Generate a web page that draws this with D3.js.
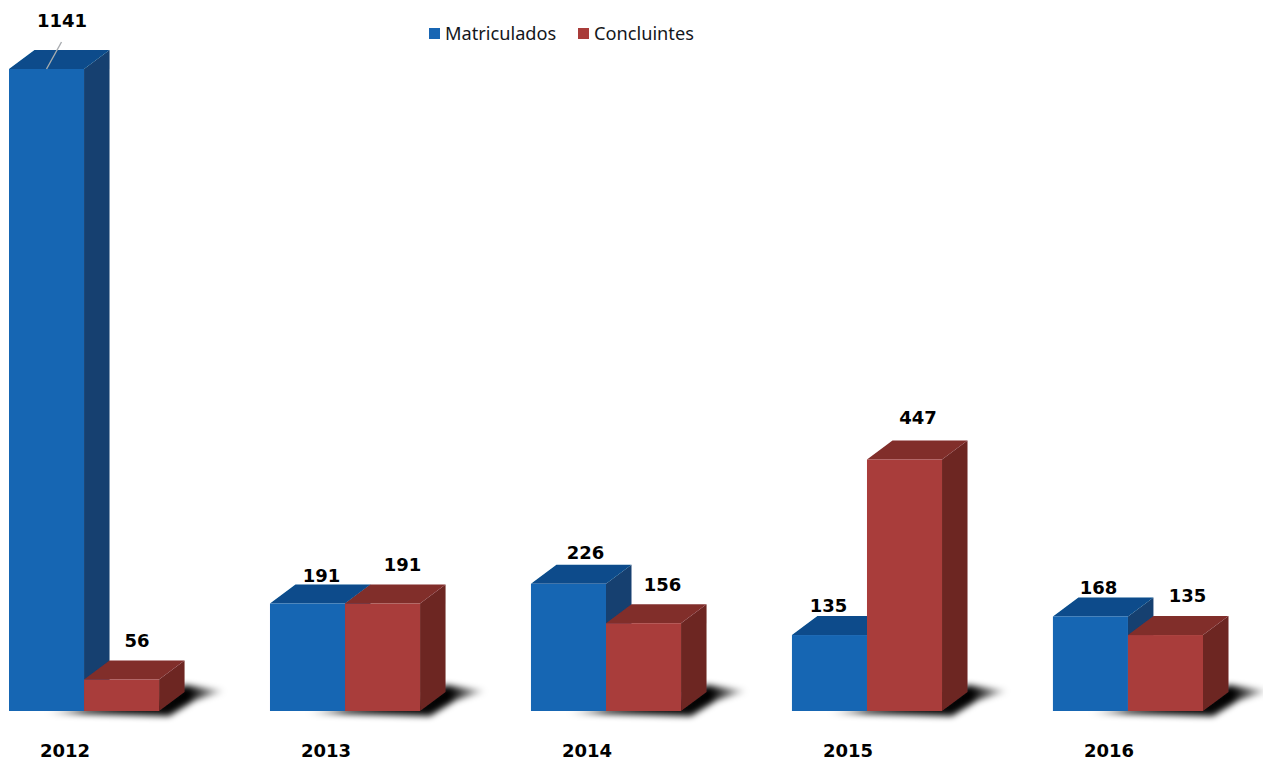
<!DOCTYPE html>
<html>
<head>
<meta charset="utf-8">
<script src="https://cdn.jsdelivr.net/npm/d3@7"></script>
<style>
  html, body { margin: 0; padding: 0; background: #fff; overflow: hidden; }
  svg { display: block; }
</style>
</head>
<body>
<div id="chart"></div>
<script>
const years = ["2012", "2013", "2014", "2015", "2016"];
const seriesNames = ["Matriculados", "Concluintes"];
const matriculados = [1141, 191, 226, 135, 168];
const concluintes = [56, 191, 156, 447, 135];

const width = 1263, height = 763;
const baseY = 711, topY = 69;
const depthX = 25.5, depthY = 19;

const colors = {
  Matriculados: {front: "#1866b3", top: "#074c8b", side: "#153f70", key: "#1866b3"},
  Concluintes: {front: "#a93c3a", top: "#812d2b", side: "#6d2624", key: "#a93c3a"}
};

// labels were placed by hand in the original, so each one has its own nudge [dx, gap above bar]
const labelNudge = {
  Matriculados: [[15.5, 42], [14, 22], [17, 25], [-1, 23], [8, 22]],
  Concluintes: [[15.5, 32], [20, 33], [19, 32], [13.5, 35], [22, 33]]
};

const svg = d3.select("#chart").append("svg")
  .attr("width", width)
  .attr("height", height);

const defs = svg.append("defs");
defs.append("filter").attr("id", "shadowBlur")
  .attr("x", "-20%").attr("y", "-40%").attr("width", "140%").attr("height", "180%")
  .append("feGaussianBlur").attr("stdDeviation", 3);
const shadowGrad = defs.append("linearGradient").attr("id", "shadowGrad");
shadowGrad.append("stop").attr("offset", "0%").attr("stop-color", "#000").attr("stop-opacity", 0.1);
shadowGrad.append("stop").attr("offset", "22%").attr("stop-color", "#000").attr("stop-opacity", 0.9);
shadowGrad.append("stop").attr("offset", "80%").attr("stop-color", "#000").attr("stop-opacity", 1);
shadowGrad.append("stop").attr("offset", "100%").attr("stop-color", "#000").attr("stop-opacity", 0.05);
defs.append("filter").attr("id", "soft")
  .append("feGaussianBlur").attr("stdDeviation", 0.45);

const x0 = d3.scaleBand()
  .domain(years)
  .range([9, 1203])
  .paddingInner(0.425);

const x1 = d3.scaleBand()
  .domain(seriesNames)
  .range([0, x0.bandwidth()]);

const y = d3.scaleLinear()
  .domain([0, 1141])
  .range([baseY, topY]);

const rows = seriesNames.map(name => ({
  name,
  values: name === "Matriculados" ? matriculados : concluintes
}));

const plot = svg.append("g").attr("filter", "url(#soft)");

// shadows go first, under all the bars
plot.append("g").selectAll("path")
  .data(years)
  .enter().append("path")
    .attr("fill", "url(#shadowGrad)")
    .attr("filter", "url(#shadowBlur)")
    .attr("d", d => {
      const l = x0(d), r = l + x0.bandwidth();
      return `M${l + 36},${baseY + 2} L${r + 10},${baseY + 5} L${r + 36},${baseY - 11}` +
        ` L${r + 66},${baseY - 20} L${r + 25},${baseY - 26} L${r},${baseY - 10} Z`;
    });

rows.forEach(row => {
  const c = colors[row.name];
  const g = plot.append("g");
  const bars = g.selectAll("g")
    .data(row.values.map((v, i) => ({year: years[i], value: v})))
    .enter().append("g");

  bars.append("path")
    .attr("fill", c.side)
    .attr("d", d => {
      const r = x0(d.year) + x1(row.name) + x1.bandwidth();
      return `M${r},${y(d.value)} l${depthX},${-depthY} V${baseY - depthY} L${r},${baseY} Z`;
    });

  bars.append("path")
    .attr("fill", c.top)
    .attr("d", d => {
      const l = x0(d.year) + x1(row.name);
      return `M${l},${y(d.value)} l${depthX},${-depthY} h${x1.bandwidth()} l${-depthX},${depthY} Z`;
    });

  bars.append("rect")
    .attr("x", d => x0(d.year) + x1(row.name))
    .attr("y", d => y(d.value))
    .attr("width", x1.bandwidth())
    .attr("height", d => baseY - y(d.value))
    .attr("fill", c.front);
});

// leader line on the tall bar
const leadX = x0(years[0]) + x1(seriesNames[0]) + x1.bandwidth() / 2;
plot.append("line")
  .attr("x1", leadX)
  .attr("y1", y(matriculados[0]))
  .attr("x2", leadX + 15)
  .attr("y2", y(matriculados[0]) - 27)
  .attr("stroke", "#a9acb0")
  .attr("stroke-width", 1.4);

const labelGroup = svg.append("g")
  .attr("font-family", "'DejaVu Sans', sans-serif")
  .attr("font-weight", "bold")
  .attr("font-size", "18px")
  .attr("fill", "#000");

rows.forEach(row => {
  labelGroup.selectAll(null)
    .data(row.values.map((v, i) => ({year: years[i], value: v, nudge: labelNudge[row.name][i]})))
    .enter().append("text")
      .attr("text-anchor", "middle")
      .attr("x", d => x0(d.year) + x1(row.name) + x1.bandwidth() / 2 + d.nudge[0])
      .attr("y", d => y(d.value) - d.nudge[1])
      .text(d => d.value);
});

// year labels sit left of the group centres
const axis = svg.append("g")
  .attr("transform", `translate(-19,${baseY})`)
  .call(d3.axisBottom(x0).tickSize(0).tickPadding(33));
axis.select(".domain").remove();
axis.selectAll("text")
  .attr("font-family", "'DejaVu Sans', sans-serif")
  .attr("font-weight", "bold")
  .attr("font-size", "18px")
  .attr("fill", "#000");

const legend = svg.append("g")
  .attr("font-family", "'Noto Sans', sans-serif")
  .attr("font-size", "18.2px")
  .attr("fill", "#14171c");

const legendX = d3.scaleOrdinal().domain(seriesNames).range([429, 578]);

legend.selectAll("rect")
  .data(seriesNames)
  .enter().append("rect")
    .attr("x", d => legendX(d))
    .attr("y", 28)
    .attr("width", 11)
    .attr("height", 11)
    .attr("fill", d => colors[d].key);

legend.selectAll("text")
  .data(seriesNames)
  .enter().append("text")
    .attr("x", d => legendX(d) + 16)
    .attr("y", 40)
    .text(d => d);
</script>
</body>
</html>
